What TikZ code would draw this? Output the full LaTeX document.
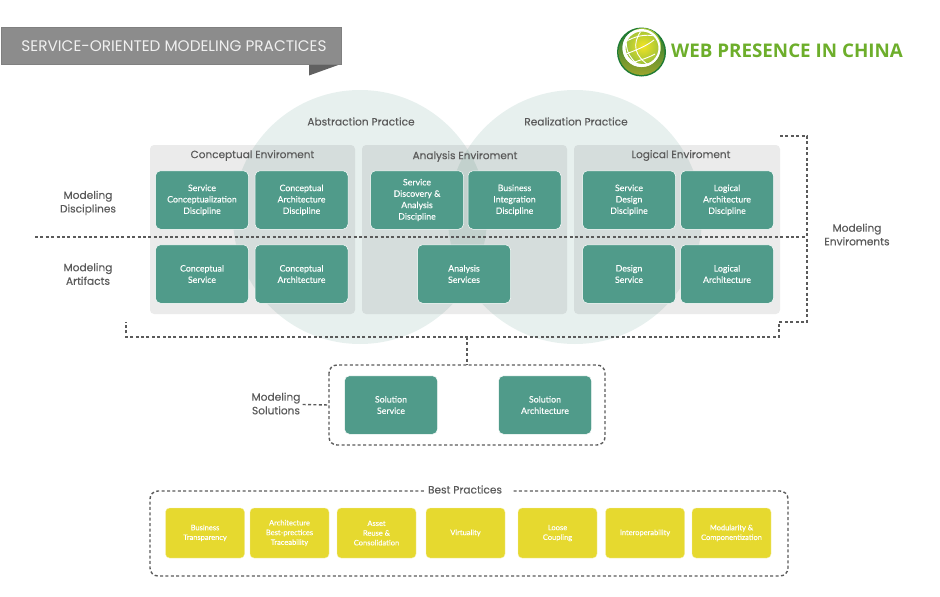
\documentclass[tikz,border=0pt]{standalone}
\usepackage{fontspec}
\setmainfont{Poppins}
\newfontfamily\medfont[FakeBold=0.25]{Poppins}
\newfontfamily\boxfont[FakeBold=0.12]{Lato}
\newfontfamily\logofont{Open Sans}
\definecolor{tealbox}{HTML}{509B8A}
\definecolor{yelbox}{HTML}{E6D92F}
\definecolor{lab}{HTML}{5A5A5A}
\definecolor{dashc}{HTML}{5A5A5A}
\definecolor{logotxt}{HTML}{6DAE2B}
\definecolor{logodark}{HTML}{1E7B34}
\definecolor{logoolive}{HTML}{9CA52C}
\definecolor{globein}{HTML}{F2E423}
\definecolor{globeout}{HTML}{9CC13A}
\tikzset{
 x=1pt,y=-1pt,
 circ/.style={fill=#1,fill opacity=.13,draw=none},
 panel/.style={fill=black,fill opacity=.08,draw=none,rounded corners=4pt},
 tbox/.style={draw=white,line width=.5pt,fill=tealbox,rounded corners=5pt,minimum width=93pt,minimum height=58.5pt,inner sep=0pt,align=center,text=white,font=\boxfont\fontsize{8.8}{11.4}\selectfont},
 ybox/.style={draw=white!60!yelbox,line width=.4pt,fill=yelbox,rounded corners=4pt,minimum width=79pt,minimum height=50pt,inner sep=0pt,align=center,text=white,font=\boxfont\fontsize{7.5}{9.7}\selectfont},
 lbl/.style={text=lab,align=center,inner sep=0pt,font=\medfont\fontsize{10.6}{13.6}\selectfont},
 envt/.style={text=lab,inner sep=0pt,font=\medfont\fontsize{10.5}{12}\selectfont},
 dsh/.style={draw=dashc,line width=1.4pt,dash pattern=on 3pt off 2.4pt},
}
\begin{document}
\begin{tikzpicture}
\useasboundingbox (0,0) rectangle (940,597);
% banner
\fill[fill=black!62] (309,64) -- (341,64) -- (309,75.5) -- cycle;
\node[draw=black!50,line width=.6pt,fill=black!45,minimum width=340pt,minimum height=37pt,inner sep=0pt,anchor=north west] (banner) at (1,27) {};
\node[text=white!94!black,inner sep=0pt,font=\fontsize{15.3}{17}\selectfont] (bannertext) at (174,46.5) {SERVICE-ORIENTED MODELING PRACTICES};
% logo
\fill[logodark] (641.5,52) circle (24.5);
\shade[top color=logodark,bottom color=logoolive] (641.5,52) circle (23);
\fill[white] (641.5,48) circle (19);
\shade[inner color=globein,outer color=globeout] (643,46) circle (18);
\fill[white,even odd rule] (641.5,48) circle (19) (642,48) circle (16.5);
\begin{scope}
\clip (642,48) circle (16.5);
\draw[white,line width=.9pt] (630,31) .. controls (622,45) and (628,58) .. (640,66);
\draw[white,line width=.9pt] (641,31) .. controls (632,44) and (634,56) .. (650,66);
\draw[white,line width=.9pt] (625,42) .. controls (635,36) and (645,34) .. (655,36);
\draw[white,line width=.9pt] (626,54) .. controls (636,50) and (645,47) .. (654,40);
\draw[white,line width=.9pt] (632,63) .. controls (640,60) and (648,58) .. (655,54);
\end{scope}
\node[inner sep=0pt,text=logotxt,font=\logofont\bfseries\fontsize{18.8}{22}\selectfont] (logotext) at (787,50.5) {WEB PRESENCE IN CHINA};
% circles
\fill[circ=tealbox!90!black] (360,217) circle (127);
\fill[circ=tealbox!90!black] (575,217) circle (127);
% panels
\fill[panel] (150,145) rectangle (355,314);
\fill[panel] (362,145) rectangle (567,314);
\fill[panel] (574,145) rectangle (780,314);
% heads
\node[lbl] (abs) at (361,121.5) {Abstraction Practice};
\node[lbl] (rea) at (576,121.5) {Realization Practice};
\node[envt] (ce) at (252.5,155.5) {Conceptual Enviroment};
\node[envt] (ae) at (465,156.5) {Analysis Enviroment};
\node[envt] (le) at (681,155.5) {Logical Enviroment};
% teal boxes
\node[tbox] (a1) at (202,200) {Service\\Conceptualization\\Discipline};
\node[tbox] (a2) at (301.5,200) {Conceptual\\Architecture\\Discipline};
\node[tbox] (a3) at (417,200) {Service\\Discovery \&\\Analysis\\Discipline};
\node[tbox] (a4) at (514.5,200) {Business\\Integration\\Discipline};
\node[tbox] (a5) at (629,200) {Service\\Design\\Discipline};
\node[tbox] (a6) at (727,200) {Logical\\Architecture\\Discipline};
\node[tbox] (b1) at (202,274) {Conceptual\\Service};
\node[tbox] (b2) at (301.5,274) {Conceptual\\Architecture};
\node[tbox] (b3) at (464,274) {Analysis\\Services};
\node[tbox] (b5) at (629,274) {Design\\Service};
\node[tbox] (b6) at (727,274) {Logical\\Architecture};
\node[tbox] (s1) at (391,405) {Solution\\Service};
\node[tbox] (s2) at (545,405) {Solution\\Architecture};
% yellow boxes
\node[ybox] (y1) at (205,533) {Business\\Transparency};
\node[ybox] (y2) at (289.5,533) {Architecture\\Best-prectices\\Traceability};
\node[ybox] (y3) at (376.5,533) {Asset\\Reuse \&\\Consolidation};
\node[ybox] (y4) at (465.5,533) {Virtuality};
\node[ybox] (y5) at (557.5,533) {Loose\\Coupling};
\node[ybox] (y6) at (645,533) {Interoperability};
\node[ybox] (y7) at (731.5,533) {Modularity \&\\Componentization};
% side labels
\node[lbl] (md) at (88,203) {Modeling\\Disciplines};
\node[lbl] (ma) at (88,274) {Modeling\\Artifacts};
\node[lbl] (me) at (857,234.5) {Modeling\\Enviroments};
\node[lbl] (ms) at (276,403.5) {Modeling\\Solutions};
\node[lbl] (bp) at (465,489.5) {Best Practices};
% dashed connectors
\coordinate (bl) at (35,237);
\coordinate (br1) at (780,136);
\coordinate (br2) at (807,136);
\coordinate (br3) at (807,237);
\coordinate (br4) at (807,322);
\coordinate (br5) at (779,322);
\coordinate (br6) at (779,337);
\coordinate (br7) at (126,337);
\coordinate (br8) at (126,322);
\coordinate (jn) at (467,337);
\coordinate (jt) at (467,365);
\coordinate (sl) at (329,405);
\draw[dsh] (bl) -- (br3);
\draw[dsh] (br1) -- (br2) -- (br4) -- (br5) -- (br6) -- (br7) -- (br8);
\draw[dsh] (jn) -- (jt);
\draw[dsh,rounded corners=8pt] (329,365) rectangle (605,445);
\draw[dsh] (ms.east) ++(2,1) -- (sl);
\draw[dsh,rounded corners=8pt] (bp.west) ++(-4,1.5) -- (150,491) -- (150,576) -- (788,576) -- (788,491) -- (513,491);
\end{tikzpicture}
\end{document}
